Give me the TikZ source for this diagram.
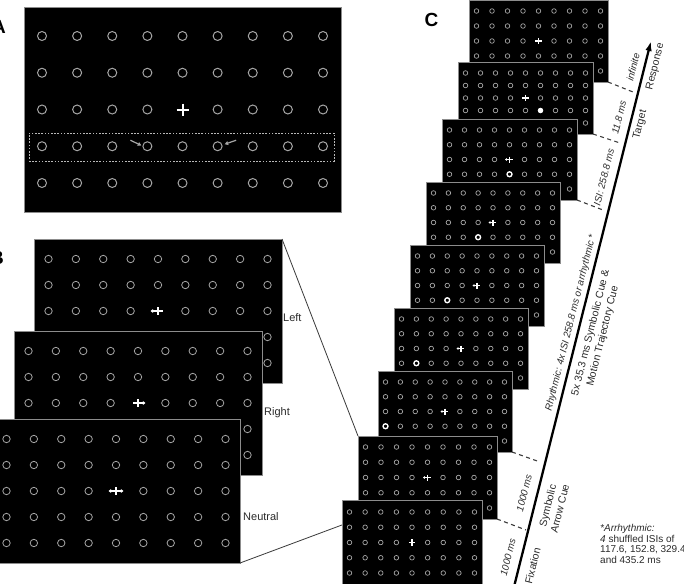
\documentclass[tikz,border=0pt]{standalone}
\usepackage{fontspec}
\setmainfont{Liberation Sans}
\usetikzlibrary{arrows.meta,calc}

\definecolor{ringgray}{HTML}{A6A6A6}
\definecolor{bordergray}{HTML}{8C8C8C}
\definecolor{txt}{HTML}{2B2B2B}
\definecolor{connc}{HTML}{3A3A3A}
\definecolor{hlgray}{HTML}{B8B8B8}

\tikzset{
 scr/.style={draw=bordergray, fill=black, line width=0.8pt, inner sep=0pt, outer sep=0pt},
 ring/.style={draw=ringgray},
 boldring/.style={draw=white, line width=1.3pt},
 xc/.style={draw=white, line cap=butt},
 conn/.style={draw=connc, line width=0.8pt},
 tick/.style={draw=connc, line width=1.1pt, dash pattern=on 4pt off 3.5pt},
 lbl/.style={text=txt, inner sep=0pt, font=\fontsize{11}{13}\selectfont},
 tl/.style={text=txt, inner sep=0pt, rotate=75.9, align=center, font=\fontsize{10.5}{12.5}\selectfont},
 tli/.style={tl, font=\fontsize{9.8}{12}\selectfont\itshape},
 panel/.style={text=black, inner sep=0pt, font=\fontsize{19}{22}\selectfont\bfseries},
 hlbox/.style={draw=hlgray, line width=0.8pt, dash pattern=on 1.6pt off 1.6pt, inner sep=0pt, outer sep=0pt},
 sarrow/.style={draw=ringgray, line width=1.2pt, arrows={-{Triangle[length=3.5pt,width=3.8pt]}}},
 bl/.style={arrows={{Triangle[length=2.6pt,width=3.6pt]}-}},
 br/.style={arrows={-{Triangle[length=2.6pt,width=3.6pt]}}},
 bb/.style={arrows={{Triangle[length=2.6pt,width=3.6pt]}-{Triangle[length=2.6pt,width=3.6pt]}}},
 cl/.style={arrows={{Triangle[length=1.8pt,width=2.6pt]}-}},
 bigarrow/.style={draw=black, line width=2.3pt, arrows={-{Latex[length=10pt,width=6.5pt]}}},
}

% #1 name, #2 left, #3 top, #4 width, #5 height, #6 x margin, #7 y margin, #8 ring radius, #9 ring line width
\newcommand\gscreen[9]{%
 \node[scr, minimum width=#4pt, minimum height=#5pt, anchor=north west] (#1) at (#2,#3) {};
 \foreach \ci in {1,...,9}{\foreach \ri in {1,...,5}{%
   \coordinate (#1-\ci-\ri) at ({#2+#6+(\ci-1)*(#4-2*#6)/8},{#3+#7+(\ri-1)*(#5-2*#7)/4});
   \ifnum\ci\ri=53 \else \draw[ring, line width=#9pt] (#1-\ci-\ri) circle[radius=#8pt];\fi
 }}%
}
% #1 pos, #2 half arm, #3 line width
\newcommand\pcross[3]{%
 \draw[xc, line width=#3pt] ($(#1)+(0,-#2)$) -- ($(#1)+(0,#2)$);
 \draw[xc, line width=#3pt] ($(#1)+(-#2,0)$) -- ($(#1)+(#2,0)$);
}
% #1 pos, #2 vertical half arm, #3 left arm, #4 right arm, #5 line width, #6 tip style
\newcommand\across[6]{%
 \draw[xc, line width=#5pt] ($(#1)+(0,-#2)$) -- ($(#1)+(0,#2)$);
 \draw[xc, line width=#5pt, #6] ($(#1)+(-#3,0)$) -- ($(#1)+(#4,0)$);
}

\begin{document}
\begin{tikzpicture}[x=1pt,y=-1pt]
\useasboundingbox (0,0) rectangle (684,583);
\fill[white] (0,0) rectangle (684,583);

% ---------------- Panel A ----------------
\gscreen{scrA}{24}{7}{317}{205}{18}{29}{4.5}{1}
\pcross{scrA-5-3}{6}{2}
\node[hlbox, minimum width=305pt, minimum height=28pt, anchor=north west] (hl) at (29,133) {};
\coordinate (aS1) at ($(scrA-4-4)+(-17,-6)$);
\coordinate (aE1) at ($(scrA-4-4)+(-6,-0.8)$);
\coordinate (aS2) at ($(scrA-6-4)+(18.5,-6)$);
\coordinate (aE2) at ($(scrA-6-4)+(7,-2)$);
\draw[sarrow] (aS1) -- (aE1);
\draw[sarrow] (aS2) -- (aE2);

% ---------------- Panel B ----------------
\gscreen{BL}{34}{239}{248}{144}{14.5}{20}{3.7}{0.8}
\across{BL-5-3}{4}{7.5}{5}{1.6}{bl}
\gscreen{BR}{14}{331}{248}{144}{14.5}{20}{3.7}{0.8}
\across{BR-5-3}{4}{5}{7.5}{1.6}{br}
\gscreen{BN}{-8}{419}{248}{144}{14.5}{20}{3.7}{0.8}
\across{BN-5-3}{4}{7.5}{7.5}{1.6}{bb}
\node[lbl, anchor=base west] (tLeft) at (283,321.5) {Left};
\node[lbl, anchor=base west] (tRight) at (264,415) {Right};
\node[lbl, anchor=base west] (tNeutral) at (243,520.5) {Neutral};

% ---------------- Panel C ----------------
\gscreen{S1}{469}{0}{139}{82}{7.5}{11}{2.3}{0.7}
\pcross{S1-5-3}{3.2}{1.1}
\gscreen{S2}{458}{62}{135}{72}{7.5}{11}{2.3}{0.7}
\pcross{S2-5-3}{3.2}{1.1}
\fill[white] (S2-6-4) circle[radius=2.7pt];
\gscreen{S3}{442}{119}{135}{81}{7.5}{11}{2.3}{0.7}
\across{S3-5-3}{3}{4.5}{3}{1.1}{cl}
\draw[boldring] (S3-5-4) circle[radius=2.5pt];
\gscreen{S4}{426}{182}{134}{81}{7.5}{11}{2.3}{0.7}
\across{S4-5-3}{3}{4.5}{3}{1.1}{cl}
\draw[boldring] (S4-4-4) circle[radius=2.5pt];
\gscreen{S5}{410}{245}{134}{81}{7.5}{11}{2.3}{0.7}
\across{S5-5-3}{3}{4.5}{3}{1.1}{cl}
\draw[boldring] (S5-3-4) circle[radius=2.5pt];
\gscreen{S6}{394}{308}{134}{81}{7.5}{11}{2.3}{0.7}
\across{S6-5-3}{3}{4.5}{3}{1.1}{cl}
\draw[boldring] (S6-2-4) circle[radius=2.5pt];
\gscreen{S7}{378}{371}{134}{81}{7.5}{11}{2.3}{0.7}
\across{S7-5-3}{3}{4.5}{3}{1.1}{cl}
\draw[boldring] (S7-1-4) circle[radius=2.5pt];
\gscreen{S8}{358}{436}{139}{83}{7.5}{11}{2.3}{0.7}
\across{S8-5-3}{3}{4.5}{3}{1.1}{cl}

% zoom lines from B to C (behind the fixation screen)
\draw[conn] (BL.north east) -- (S8.north west);
\draw[conn] (BN.south east) -- (S8.south west);

\gscreen{S9}{342}{500}{140}{85}{7.5}{12}{2.3}{0.7}
\pcross{S9-5-3}{3.2}{1.1}

% time line
\coordinate (tl0) at (512.2,594);
\coordinate (tl1) at (651,41);
\draw[bigarrow] (tl0) -- (tl1);

\coordinate (T1) at (633,92);
\coordinate (T2) at (620,143);
\coordinate (T3) at (603,210);
\coordinate (T4) at (540,462);
\coordinate (T5) at (526,530);
\draw[tick] (S1.south east) -- (T1);
\draw[tick] (S2.south east) -- (T2);
\draw[tick] (S3.south east) -- (T3);
\draw[tick] (S7.south east) -- (T4);
\draw[tick] (S8.south east) -- (T5);

\node[tli] (d1) at (508,557.5) {1000 ms};
\node[tli] (d2) at (524.2,493) {1000 ms};
\node[tli] (d3) at (571,322.8) {Rhythmic: 4x ISI 258.8 ms or arrhythmic *};
\node[tli] (d4) at (603.9,177.4) {ISI: 258.8 ms};
\node[tli] (d5) at (619,117.3) {11.8 ms};
\node[tli] (d6) at (633.1,67.2) {infinite};
\node[tl] (e1) at (532.7,565.8) {Fixation};
\node[tl] (e2) at (553.6,507.1) {Symbolic\\Arrow Cue};
\node[tl] (e3) at (596.9,334.4) {5x 35.3 ms Symbolic Cue \&\\Motion Trajectory Cue};
\node[tl] (e4) at (640.3,124.6) {Target};
\node[tl] (e5) at (655.4,66.6) {Response};

\node[lbl, font=\fontsize{10}{10.5}\selectfont, align=left, anchor=north west] (fn) at (600,524.5)
 {\textit{*Arrhythmic:}\\\textit{4} shuffled ISIs of\\117.6, 152.8, 329.4\\and 435.2 ms};

% panel letters
\node[panel, anchor=base east] (pA) at (6,34) {A};
\node[panel, anchor=base east] (pB) at (4,264) {B};
\node[panel, anchor=base] (pC) at (431.5,27) {C};
\end{tikzpicture}
\end{document}
